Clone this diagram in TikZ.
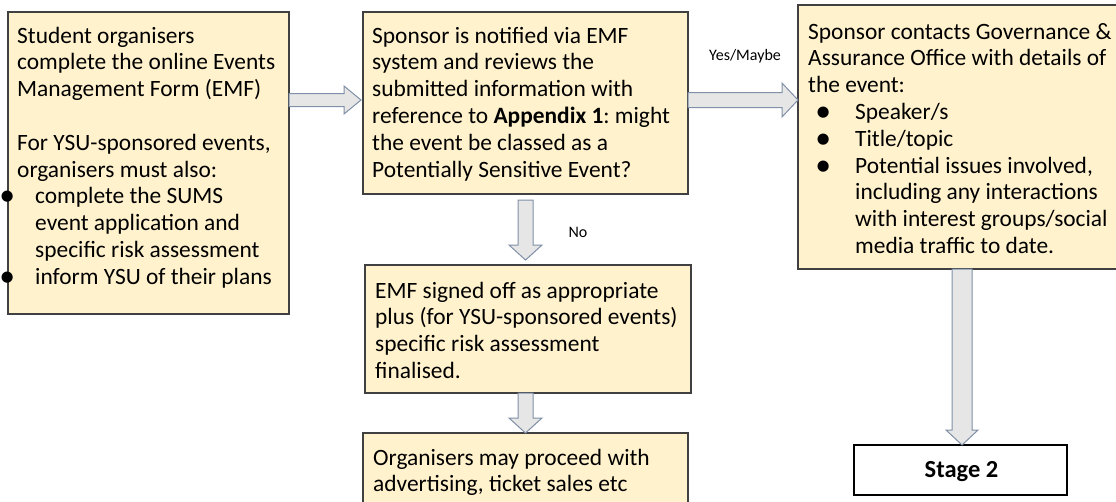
\documentclass[tikz,border=0pt]{standalone}
\usepackage{fontspec}
\usepackage{graphicx}
\setmainfont{Carlito}
\usetikzlibrary{calc}
\frenchspacing
\definecolor{boxfill}{HTML}{FFF2CC}
\definecolor{boxline}{HTML}{404040}
\definecolor{arrfill}{HTML}{E6E6E6}
\definecolor{arrline}{HTML}{8090A8}
\newcommand\boxtext[1]{\parbox[t]{440pt}{\frenchspacing\fontsize{23.4pt}{26.8pt}\selectfont #1}}
\newcommand\bigdot{\smash{\raisebox{-2pt}{\scalebox{1.35}{\textbullet}}}}
\newcommand\blt[2]{\rlap{\hspace*{#1}\makebox[0pt]{\bigdot}}\hspace*{#2}}
\newcommand\hblock[5]{%
  \draw[blockarr] let \p1=(#1), \p2=(#2) in
    ({\x1},{\y1+#3pt}) -- ({\x2-#5pt},{\y1+#3pt}) -- ({\x2-#5pt},{\y1+#4pt}) --
    ({\x2},{\y1}) -- ({\x2-#5pt},{\y1-#4pt}) -- ({\x2-#5pt},{\y1-#3pt}) --
    ({\x1},{\y1-#3pt}) -- cycle;}
\newcommand\vblock[5]{%
  \draw[blockarr] let \p1=(#1), \p2=(#2) in
    ({\x1-#3pt},{\y1}) -- ({\x1-#3pt},{\y2+#5pt}) -- ({\x1-#4pt},{\y2+#5pt}) --
    ({\x1},{\y2}) -- ({\x1+#4pt},{\y2+#5pt}) -- ({\x1+#3pt},{\y2+#5pt}) --
    ({\x1+#3pt},{\y1}) -- cycle;}
\tikzset{
  box/.style={draw=boxline, fill=boxfill, line width=1.2pt, inner sep=0pt, outer sep=0pt, anchor=north west},
  txt/.style={inner sep=0pt, anchor=base west},
  blockarr/.style={draw=arrline, fill=arrfill, line width=1pt, line join=miter},
  stagebox/.style={draw=black, fill=white, line width=1.5pt, inner sep=0pt, outer sep=0pt, anchor=north west},
  lbl/.style={inner sep=0pt, anchor=base, font=\fontsize{16pt}{19pt}\selectfont}
}
\begin{document}
\begin{tikzpicture}[x=1pt, y=-1pt]
\useasboundingbox (0,0) rectangle (1116,501);
\clip (0,0) rectangle (1116,501);
\fill[white] (0,0) rectangle (1116,501);

% boxes
\node[box, minimum width=281pt, minimum height=302pt] (A) at (8,12) {};
\node[box, minimum width=325pt, minimum height=182pt] (B) at (363,12) {};
\node[box, minimum width=330pt, minimum height=264pt] (C) at (798,5) {};
\node[box, minimum width=326pt, minimum height=128pt] (D) at (365,265) {};
\node[box, minimum width=325pt, minimum height=80pt] (E) at (363,433) {};
\node[stagebox, minimum width=213pt, minimum height=50pt] (S) at (854,445) {};

% texts
\node[txt] (At) at (17,43) {\boxtext{%
Student organisers\\
complete the online Events\\
Management Form (EMF)\\[26.8pt]
For YSU-sponsored events,\\
organisers must also:\\
\blt{-10pt}{18pt}complete the SUMS\\
\hspace*{18pt}event application and\\
\hspace*{18pt}specific risk assessment\\
\blt{-10pt}{18pt}inform YSU of their plans}};

\node[txt] (Bt) at (372,43) {\boxtext{%
Sponsor is notified via EMF\\
system and reviews the\\
submitted information with\\
reference to \textbf{Appendix 1}: might\\
the event be classed as a\\
Potentially Sensitive Event?}};

\node[txt] (Ct) at (808,39) {\boxtext{%
Sponsor contacts Governance \&\\
Assurance Office with details of\\
the event:\\
\blt{15pt}{47pt}Speaker/s\\
\blt{15pt}{47pt}Title/topic\\
\blt{15pt}{47pt}Potential issues involved,\\
\hspace*{47pt}including any interactions\\
\hspace*{47pt}with interest groups/social\\
\hspace*{47pt}media traffic to date.}};

\node[txt] (Dt) at (375,298) {\boxtext{%
EMF signed off as appropriate\\
plus (for YSU-sponsored events)\\
specific risk assessment\\
finalised.}};

\node[txt] (Et) at (373,465) {\boxtext{%
Organisers may proceed with\\
advertising, ticket sales etc}};

\node[inner sep=0pt, anchor=base, font=\fontsize{24.5pt}{28pt}\selectfont\bfseries] (St) at ($(S.north)+(1,32)$) {Stage 2};

% labels
\node[lbl] (yes) at (745,60) {Yes/Maybe};
\node[lbl] (no) at (578,237) {No};

% block arrows
\coordinate (ab) at ($(A.north east)+(0,88)$);
\coordinate (bc) at ($(B.north east)+(0,88)$);
\coordinate (bd) at ($(B.south west)+(162.5,6)$);
\coordinate (de) at (D.south -| bd);
\coordinate (cs) at ($(C.south -| S.north)+(1.5,0)$);
\hblock{ab}{$(B.west |- ab)+(-2,0)$}{6.5}{14}{17}
\hblock{bc}{C.west |- bc}{7.5}{17}{16}
\vblock{bd}{$(D.north -| bd)+(0,-5)$}{7.5}{16.5}{15}
\vblock{de}{E.north -| bd}{7.5}{16.5}{15}
\vblock{cs}{S.north -| cs}{10}{16}{15}
\end{tikzpicture}
\end{document}
